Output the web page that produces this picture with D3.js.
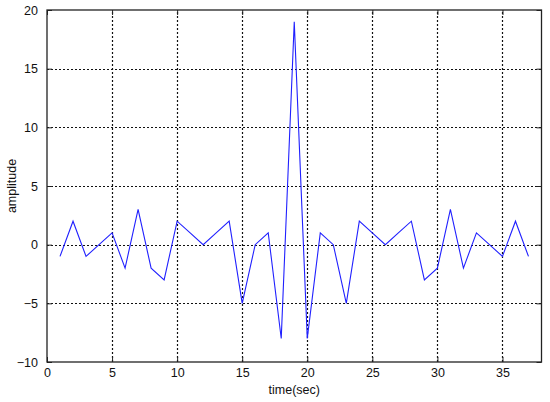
<!DOCTYPE html>
<html>
<head>
<meta charset="utf-8">
<script src="https://cdn.jsdelivr.net/npm/d3@7"></script>
<style>
html,body{margin:0;padding:0;background:#fff;}
svg{display:block;}
text{font-family:"Liberation Sans",Arial,sans-serif;}
</style>
</head>
<body>
<svg id="chart" width="550" height="402"></svg>
<script>
const timeValues = [1,2,3,4,5,6,7,8,9,10,11,12,13,14,15,16,17,18,19,20,21,22,23,24,25,26,27,28,29,30,31,32,33,34,35,36,37];
const amplitudeValues = [-1,2,-1,0,1,-2,3,-2,-3,2,1,0,1,2,-5,0,1,-8,19,-8,1,0,-5,2,1,0,1,2,-3,-2,3,-2,1,0,-1,2,-1];
const xTicks = [0,5,10,15,20,25,30,35];
const yTicks = [-10,-5,0,5,10,15,20];
const xLabel = "time(sec)";
const yLabel = "amplitude";

const svg = d3.select("#chart");
const m = {left:47, top:10, right:8.5, bottom:40};
const W = 550, H = 402;
const x = d3.scaleLinear().domain([0,38]).range([m.left, W - m.right]);
const y = d3.scaleLinear().domain([-10,20]).range([H - m.bottom, m.top]);

// grid
const g = svg.append("g");
g.selectAll("line.vg").data(xTicks.filter(t => t > 0)).enter().append("line")
  .attr("x1", d => Math.round(x(d)) + 0.5).attr("x2", d => Math.round(x(d)) + 0.5)
  .attr("y1", y(-10)).attr("y2", y(20))
  .attr("stroke", "#111").attr("stroke-width", 1.2).attr("stroke-dasharray", "2,2");
g.selectAll("line.hg").data(yTicks.filter(t => t > -10 && t < 20)).enter().append("line")
  .attr("y1", d => Math.round(y(d)) + 0.5).attr("y2", d => Math.round(y(d)) + 0.5)
  .attr("x1", x(0)).attr("x2", x(38))
  .attr("stroke", "#111").attr("stroke-width", 1.2).attr("stroke-dasharray", "2,2");

// data line
const line = d3.line().x((d,i) => x(timeValues[i])).y(d => y(d));
svg.append("path").datum(amplitudeValues)
  .attr("d", line).attr("fill", "none").attr("stroke", "#2020ff").attr("stroke-width", 1.1);

// axes
const xAxisB = d3.axisBottom(x).tickValues(xTicks).tickSizeInner(-5).tickSizeOuter(0).tickPadding(6);
const xAxisT = d3.axisTop(x).tickValues(xTicks).tickSizeInner(-5).tickSizeOuter(0).tickFormat("");
const yAxisL = d3.axisLeft(y).tickValues(yTicks).tickSizeInner(-5).tickSizeOuter(0).tickPadding(9);
const yAxisR = d3.axisRight(y).tickValues(yTicks).tickSizeInner(-5).tickSizeOuter(0).tickFormat("");

function style(sel){
  sel.selectAll("path").remove();
  sel.selectAll("line").attr("stroke", "#222");
  sel.selectAll("text").attr("fill", "#111").style("font-size", "12.5px").style("font-family", "'Liberation Sans', Arial, sans-serif");
}
svg.append("g").attr("transform", `translate(0,${y(-10)})`).call(xAxisB).call(style);
svg.append("g").attr("transform", `translate(0,${y(20)})`).call(xAxisT).call(style);
svg.append("g").attr("transform", `translate(${x(0)},0)`).call(yAxisL).call(style);
svg.append("g").attr("transform", `translate(${x(38)},0)`).call(yAxisR).call(style);

// box
svg.append("rect").attr("x", x(0)).attr("y", y(20)).attr("width", x(38) - x(0)).attr("height", y(-10) - y(20))
  .attr("fill", "none").attr("stroke", "#222").attr("stroke-width", 1.3);

// labels
svg.append("text").attr("x", (x(0) + x(38)) / 2).attr("y", 394).attr("text-anchor", "middle")
  .style("font-size", "12.5px").attr("fill", "#111").text(xLabel);
svg.append("text").attr("transform", `translate(16,${(y(-10) + y(20)) / 2}) rotate(-90)`).attr("text-anchor", "middle")
  .style("font-size", "12.5px").attr("fill", "#111").text(yLabel);
</script>
</body>
</html>
